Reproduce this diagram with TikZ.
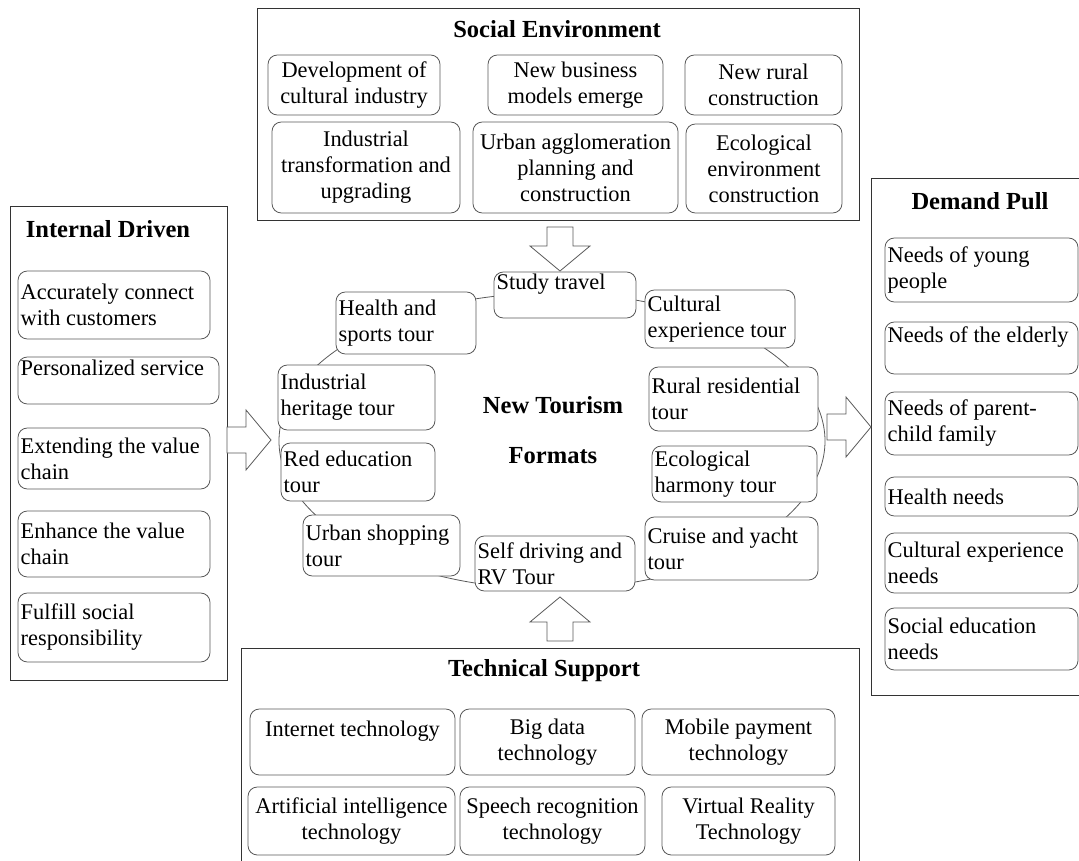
\documentclass[tikz,border=0pt]{standalone}
\usepackage{fontspec}
\setmainfont{Liberation Serif}

\newcommand{\boxfont}{\fontsize{16.8}{19.5}\selectfont}
\newcommand{\headfont}{\fontsize{18.4}{21}\selectfont\bfseries}

\tikzset{
  sz/.style 2 args={minimum width=#1*0.75pt, minimum height=#2*0.75pt, text width=#1*0.75pt-4pt},
  frame/.style={draw=black!80, line width=0.7pt, inner sep=0pt},
  rbox/.style={draw=black!65, line width=0.6pt, rounded corners=7pt, fill=white,
    inner xsep=2pt, inner ysep=1pt, font=\boxfont},
  lbox/.style={rbox, align=flush left},
  cbox/.style={rbox, align=flush center},
  head/.style={font=\headfont, inner sep=0pt},
  barrow/.pic={\draw[draw=black!65, line width=0.6pt, fill=white]
    (0,-13) -- (19,-13) -- (19,-30) -- (44,0) -- (19,30) -- (19,13) -- (0,13) -- cycle;}
}

\begin{document}
\begin{tikzpicture}[x=0.75pt, y=-0.75pt]
\useasboundingbox (0,0) rectangle (1079,861);

% outer frames
\draw[frame] (257,8) rectangle (859,220);
\draw[frame] (10,206) rectangle (227,680);
\draw[frame] (871,178) rectangle (1095,695);
\draw[frame] (241,648) rectangle (859,890);

% social environment
\node[head] (sochead) at (557,29) {Social Environment};
\node[cbox, sz={172}{60}] (dev) at (354,85) {Development of\\cultural industry};
\node[cbox, sz={175}{60}] (biz) at (575.5,85) {New business\\models emerge};
\node[cbox, sz={157}{60}] (rural) at (763.5,85) {New rural\\construction};
\node[cbox, sz={188}{91}] (indus) at (366,167.5) {Industrial\\transformation and\\upgrading};
\node[cbox, sz={205}{91}] (urban) at (575.5,167.5) {Urban agglomeration\\planning and\\construction};
\node[cbox, sz={156}{89}] (ecoenv) at (764,168.5) {Ecological\\environment\\construction};

% internal driven
\node[head] (inthead) at (108,229) {Internal Driven};
\node[lbox, sz={192}{68}] (accur) at (114,305) {Accurately connect\\with customers};
\node[lbox, sz={201}{47}] (person) at (118.5,380.5) {Personalized service\\~};
\node[lbox, sz={192}{61}] (extend) at (114,458.5) {Extending the value\\chain};
\node[lbox, sz={192}{66}] (enhance) at (114,544) {Enhance the value\\chain};
\node[lbox, sz={192}{69}] (fulfill) at (114,627.5) {Fulfill social\\responsibility};

% demand pull
\node[head] (demhead) at (980,201) {Demand Pull};
\node[lbox, sz={193}{64}] (young) at (981.5,270) {Needs of young\\people};
\node[lbox, sz={193}{52}] (elder) at (981.5,348) {Needs of the elderly\\~};
\node[lbox, sz={193}{63}] (parent) at (981.5,423.5) {Needs of parent-\\child family};
\node[lbox, sz={193}{39}] (healthn) at (981.5,496.5) {Health needs};
\node[lbox, sz={193}{60}] (cultn) at (981.5,563) {Cultural experience\\needs};
\node[lbox, sz={193}{62}] (socedu) at (981.5,639) {Social education\\needs};

% ring of tourism formats
\coordinate (ringc) at (552,441);
\draw[draw=black!65, line width=0.6pt] (ringc) ellipse [x radius=273, y radius=148];
\node[head, align=center] (core) at (553,430) {New Tourism\\[16pt]Formats};
\node[lbox, sz={142}{46}] (study) at (565,295) {Study travel\\~};
\node[lbox, sz={140}{62}] (sport) at (406,323) {Health and\\sports tour};
\node[lbox, sz={150}{58}] (cultexp) at (720,319) {Cultural\\experience tour};
\node[lbox, sz={157}{65}] (heritage) at (356.5,397.5) {Industrial\\heritage tour};
\node[lbox, sz={169}{64}] (rurres) at (733.5,399) {Rural residential\\tour};
\node[lbox, sz={154}{58}] (red) at (358,472) {Red education\\tour};
\node[lbox, sz={165}{56}] (ecoharm) at (734.5,474) {Ecological\\harmony tour};
\node[lbox, sz={157}{61}] (shop) at (381.5,545.5) {Urban shopping\\tour};
\node[lbox, sz={173}{63}] (cruise) at (731.5,548.5) {Cruise and yacht\\tour};
\node[lbox, sz={160}{55}] (selfdrv) at (555,563.5) {Self driving and\\RV Tour};

% technical support
\node[head] (techhead) at (544,671) {Technical Support};
\node[cbox, sz={205}{66}] (inet) at (352.5,742) {Internet technology\\~};
\node[cbox, sz={175}{66}] (bigdata) at (547.5,742) {Big data\\technology};
\node[cbox, sz={193}{66}] (mobile) at (738.5,742) {Mobile payment\\technology};
\node[cbox, sz={207}{68}] (ai) at (351.5,821) {Artificial intelligence\\technology};
\node[cbox, sz={185}{68}] (speech) at (552.5,821) {Speech recognition\\technology};
\node[cbox, sz={173}{68}] (vr) at (748.5,821) {Virtual Reality\\Technology};

% block arrows
\pic[rotate=-90] at (560,227) {barrow};
\pic[rotate=90] at (560,641) {barrow};
\pic at (227,440) {barrow};
\pic at (827,427) {barrow};

\end{tikzpicture}
\end{document}
